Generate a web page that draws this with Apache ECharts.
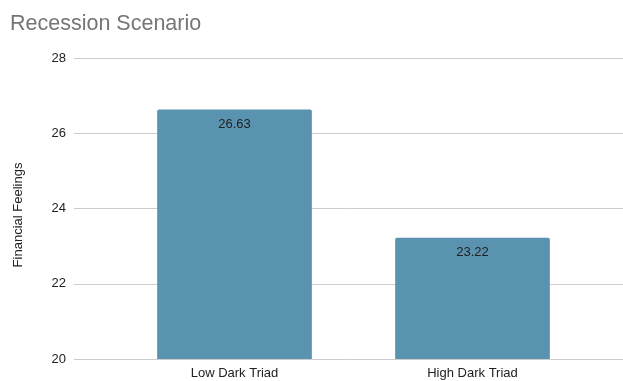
<!DOCTYPE html>
<html>
<head>
<meta charset="utf-8">
<script src="https://cdn.jsdelivr.net/npm/echarts@6/dist/echarts.min.js"></script>
<style>
  html, body { margin: 0; padding: 0; background: #fff; }
  #chart { width: 623px; height: 381px; }
</style>
</head>
<body>
<div id="chart"></div>
<script>
// Mean financial-feelings score per group
const categories = ['Low Dark Triad', 'High Dark Triad'];
const values = [26.63, 23.22];
const yTicks = { min: 20, max: 28, interval: 2 };

const chart = echarts.init(document.getElementById('chart'), null, { renderer: 'canvas' });
const font = 'Arial, "Liberation Sans", sans-serif';

chart.setOption({
  animation: false,
  backgroundColor: '#ffffff',
  title: {
    text: 'Recession Scenario',
    left: 5,
    top: 8,
    textStyle: { color: '#757575', fontSize: 21.5, fontWeight: 'normal', fontFamily: font }
  },
  grid: [
    // full-width grid: y axis labels and gridlines
    { left: 74, right: 0, top: 58, bottom: 22, containLabel: false },
    // narrower grid that holds the bars
    { left: 115.5, right: 31.5, top: 58, bottom: 22, containLabel: false }
  ],
  xAxis: [
    { type: 'category', gridIndex: 0, data: [''], show: false },
    {
      type: 'category', gridIndex: 1, data: categories,
      axisLine: { show: false },
      axisTick: { show: false },
      axisLabel: { color: '#222', fontSize: 13, fontFamily: font, margin: 8 }
    }
  ],
  yAxis: [
    {
      type: 'value', gridIndex: 0,
      min: yTicks.min, max: yTicks.max, interval: yTicks.interval,
      name: 'Financial Feelings',
      nameLocation: 'middle',
      nameGap: 49,
      nameTextStyle: { color: '#222', fontSize: 13, fontFamily: font, padding: [0, 13, 0, 0] },
      axisLine: { show: false },
      axisTick: { show: false },
      axisLabel: { color: '#222', fontSize: 13, fontFamily: font, margin: 8 },
      splitLine: { lineStyle: { color: '#cccccc', width: 1 } }
    },
    {
      type: 'value', gridIndex: 1,
      min: yTicks.min, max: yTicks.max, interval: yTicks.interval,
      show: false
    }
  ],
  series: [{
    type: 'bar',
    xAxisIndex: 1,
    yAxisIndex: 1,
    data: values,
    barWidth: '65%',
    itemStyle: { color: '#5a93b0', borderRadius: [2, 2, 0, 0] },
    label: {
      show: true,
      position: 'insideTop',
      distance: 8,
      color: '#222',
      fontSize: 13,
      fontFamily: font,
      formatter: p => p.value.toFixed(2)
    }
  }]
});
</script>
</body>
</html>
